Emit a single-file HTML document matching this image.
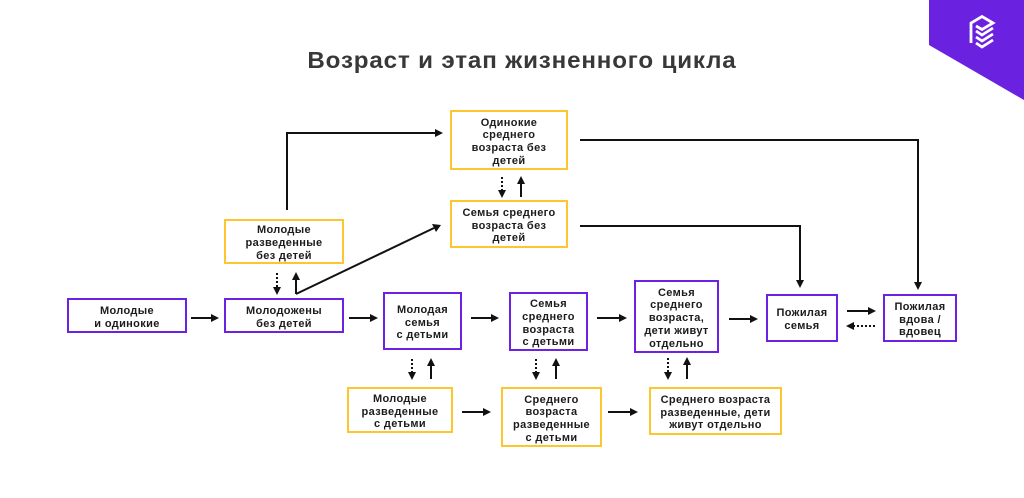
<!DOCTYPE html>
<html><head><meta charset="utf-8">
<style>
html,body{margin:0;padding:0;background:#fff;}
body{width:1024px;height:498px;position:relative;overflow:hidden;font-family:"Liberation Sans","Noto Sans CJK SC",sans-serif;}
.title{position:absolute;left:0;width:1044px;top:47px;text-align:center;font-size:23px;line-height:26px;font-weight:bold;color:#383838;letter-spacing:0.8px;transform:scaleX(1.05);transform-origin:522px 0;}
.b{position:absolute;box-sizing:border-box;display:flex;align-items:center;justify-content:center;text-align:center;font-weight:bold;font-size:11px;line-height:12.7px;color:#1c1c1c;letter-spacing:0.35px;padding-top:4px;}
.p{border:2px solid #6b22e2;}
.y{border:2px solid #fcc72e;}
svg{position:absolute;left:0;top:0;}
</style></head><body>
<svg width="1024" height="498" viewBox="0 0 1024 498">
  <polygon points="929,0 1024,0 1024,100 929,45" fill="#6a21e0"/>
  <g fill="none" stroke="#fff" stroke-width="2.8" stroke-linejoin="miter" stroke-linecap="butt">
    <path d="M971,43 L971,23 L982,16.5 L993,23 L982,29.5 L976,26"/>
    <path d="M976,31 L982,35 L993,28"/>
    <path d="M976,37 L982,41 L993,34"/>
    <path d="M976,43 L982,47 L993,40"/>
  </g>
  <g stroke="#111" stroke-width="2" fill="none">
    <line x1="191" y1="318" x2="212" y2="318"/>
    <line x1="349" y1="318" x2="371" y2="318"/>
    <line x1="471" y1="318" x2="492" y2="318"/>
    <line x1="597" y1="318" x2="620" y2="318"/>
    <line x1="729" y1="319" x2="751" y2="319"/>
    <line x1="847" y1="311" x2="869" y2="311"/>
    <line x1="875" y1="326" x2="853" y2="326" stroke-dasharray="2,2"/>
    <line x1="462" y1="412" x2="484" y2="412"/>
    <line x1="608" y1="412" x2="631" y2="412"/>
    <line x1="277" y1="273" x2="277" y2="288" stroke-dasharray="2,2"/>
    <line x1="296" y1="294" x2="296" y2="279"/>
    <line x1="502" y1="177" x2="502" y2="191" stroke-dasharray="2,2"/>
    <line x1="521" y1="197" x2="521" y2="183"/>
    <line x1="412" y1="359" x2="412" y2="373" stroke-dasharray="2,2"/>
    <line x1="431" y1="379" x2="431" y2="365"/>
    <line x1="536" y1="359" x2="536" y2="373" stroke-dasharray="2,2"/>
    <line x1="556" y1="379" x2="556" y2="365"/>
    <line x1="668" y1="358" x2="668" y2="373" stroke-dasharray="2,2"/>
    <line x1="687" y1="379" x2="687" y2="364"/>
    <polyline points="287,210 287,133 436,133"/>
    <line x1="296" y1="294" x2="434" y2="228"/>
    <polyline points="580,140 918,140 918,283"/>
    <polyline points="580,226 800,226 800,281"/>
  </g>
  <g fill="#111">
    <polygon points="219,318 211,314 211,322"/>
    <polygon points="378,318 370,314 370,322"/>
    <polygon points="499,318 491,314 491,322"/>
    <polygon points="627,318 619,314 619,322"/>
    <polygon points="758,319 750,315 750,323"/>
    <polygon points="876,311 868,307 868,315"/>
    <polygon points="846,326 854,322 854,330"/>
    <polygon points="491,412 483,408 483,416"/>
    <polygon points="638,412 630,408 630,416"/>
    <polygon points="277,295 273,287 281,287"/>
    <polygon points="296,272 292,280 300,280"/>
    <polygon points="502,198 498,190 506,190"/>
    <polygon points="521,176 517,184 525,184"/>
    <polygon points="412,380 408,372 416,372"/>
    <polygon points="431,358 427,366 435,366"/>
    <polygon points="536,380 532,372 540,372"/>
    <polygon points="556,358 552,366 560,366"/>
    <polygon points="668,380 664,372 672,372"/>
    <polygon points="687,357 683,365 691,365"/>
    <polygon points="443,133 435,129 435,137"/>
    <polygon points="441,225 432,224 436,232"/>
    <polygon points="918,290 914,282 922,282"/>
    <polygon points="800,288 796,280 804,280"/>
  </g>
</svg>
<div class="title">Возраст и этап жизненного цикла</div>

<div class="b p" style="left:67px;top:298px;width:120px;height:35px;">Молодые<br>и одинокие</div>
<div class="b p" style="left:224px;top:298px;width:120px;height:35px;">Молодожены<br>без детей</div>
<div class="b y" style="left:224px;top:219px;width:120px;height:45px;">Молодые<br>разведенные<br>без детей</div>
<div class="b y" style="left:450px;top:110px;width:118px;height:60px;">Одинокие<br>среднего<br>возраста без<br>детей</div>
<div class="b y" style="left:450px;top:200px;width:118px;height:48px;">Семья среднего<br>возраста без<br>детей</div>
<div class="b p" style="left:383px;top:292px;width:79px;height:58px;">Молодая<br>семья<br>с детьми</div>
<div class="b p" style="left:509px;top:292px;width:79px;height:59px;">Семья<br>среднего<br>возраста<br>с детьми</div>
<div class="b p" style="left:634px;top:280px;width:85px;height:73px;">Семья<br>среднего<br>возраста,<br>дети живут<br>отдельно</div>
<div class="b p" style="left:766px;top:294px;width:72px;height:48px;">Пожилая<br>семья</div>
<div class="b p" style="left:883px;top:294px;width:74px;height:48px;">Пожилая<br>вдова /<br>вдовец</div>
<div class="b y" style="left:347px;top:387px;width:106px;height:46px;">Молодые<br>разведенные<br>с детьми</div>
<div class="b y" style="left:501px;top:387px;width:101px;height:60px;">Среднего<br>возраста<br>разведенные<br>с детьми</div>
<div class="b y" style="left:649px;top:387px;width:133px;height:48px;">Среднего возраста<br>разведенные, дети<br>живут отдельно</div>
</body></html>
